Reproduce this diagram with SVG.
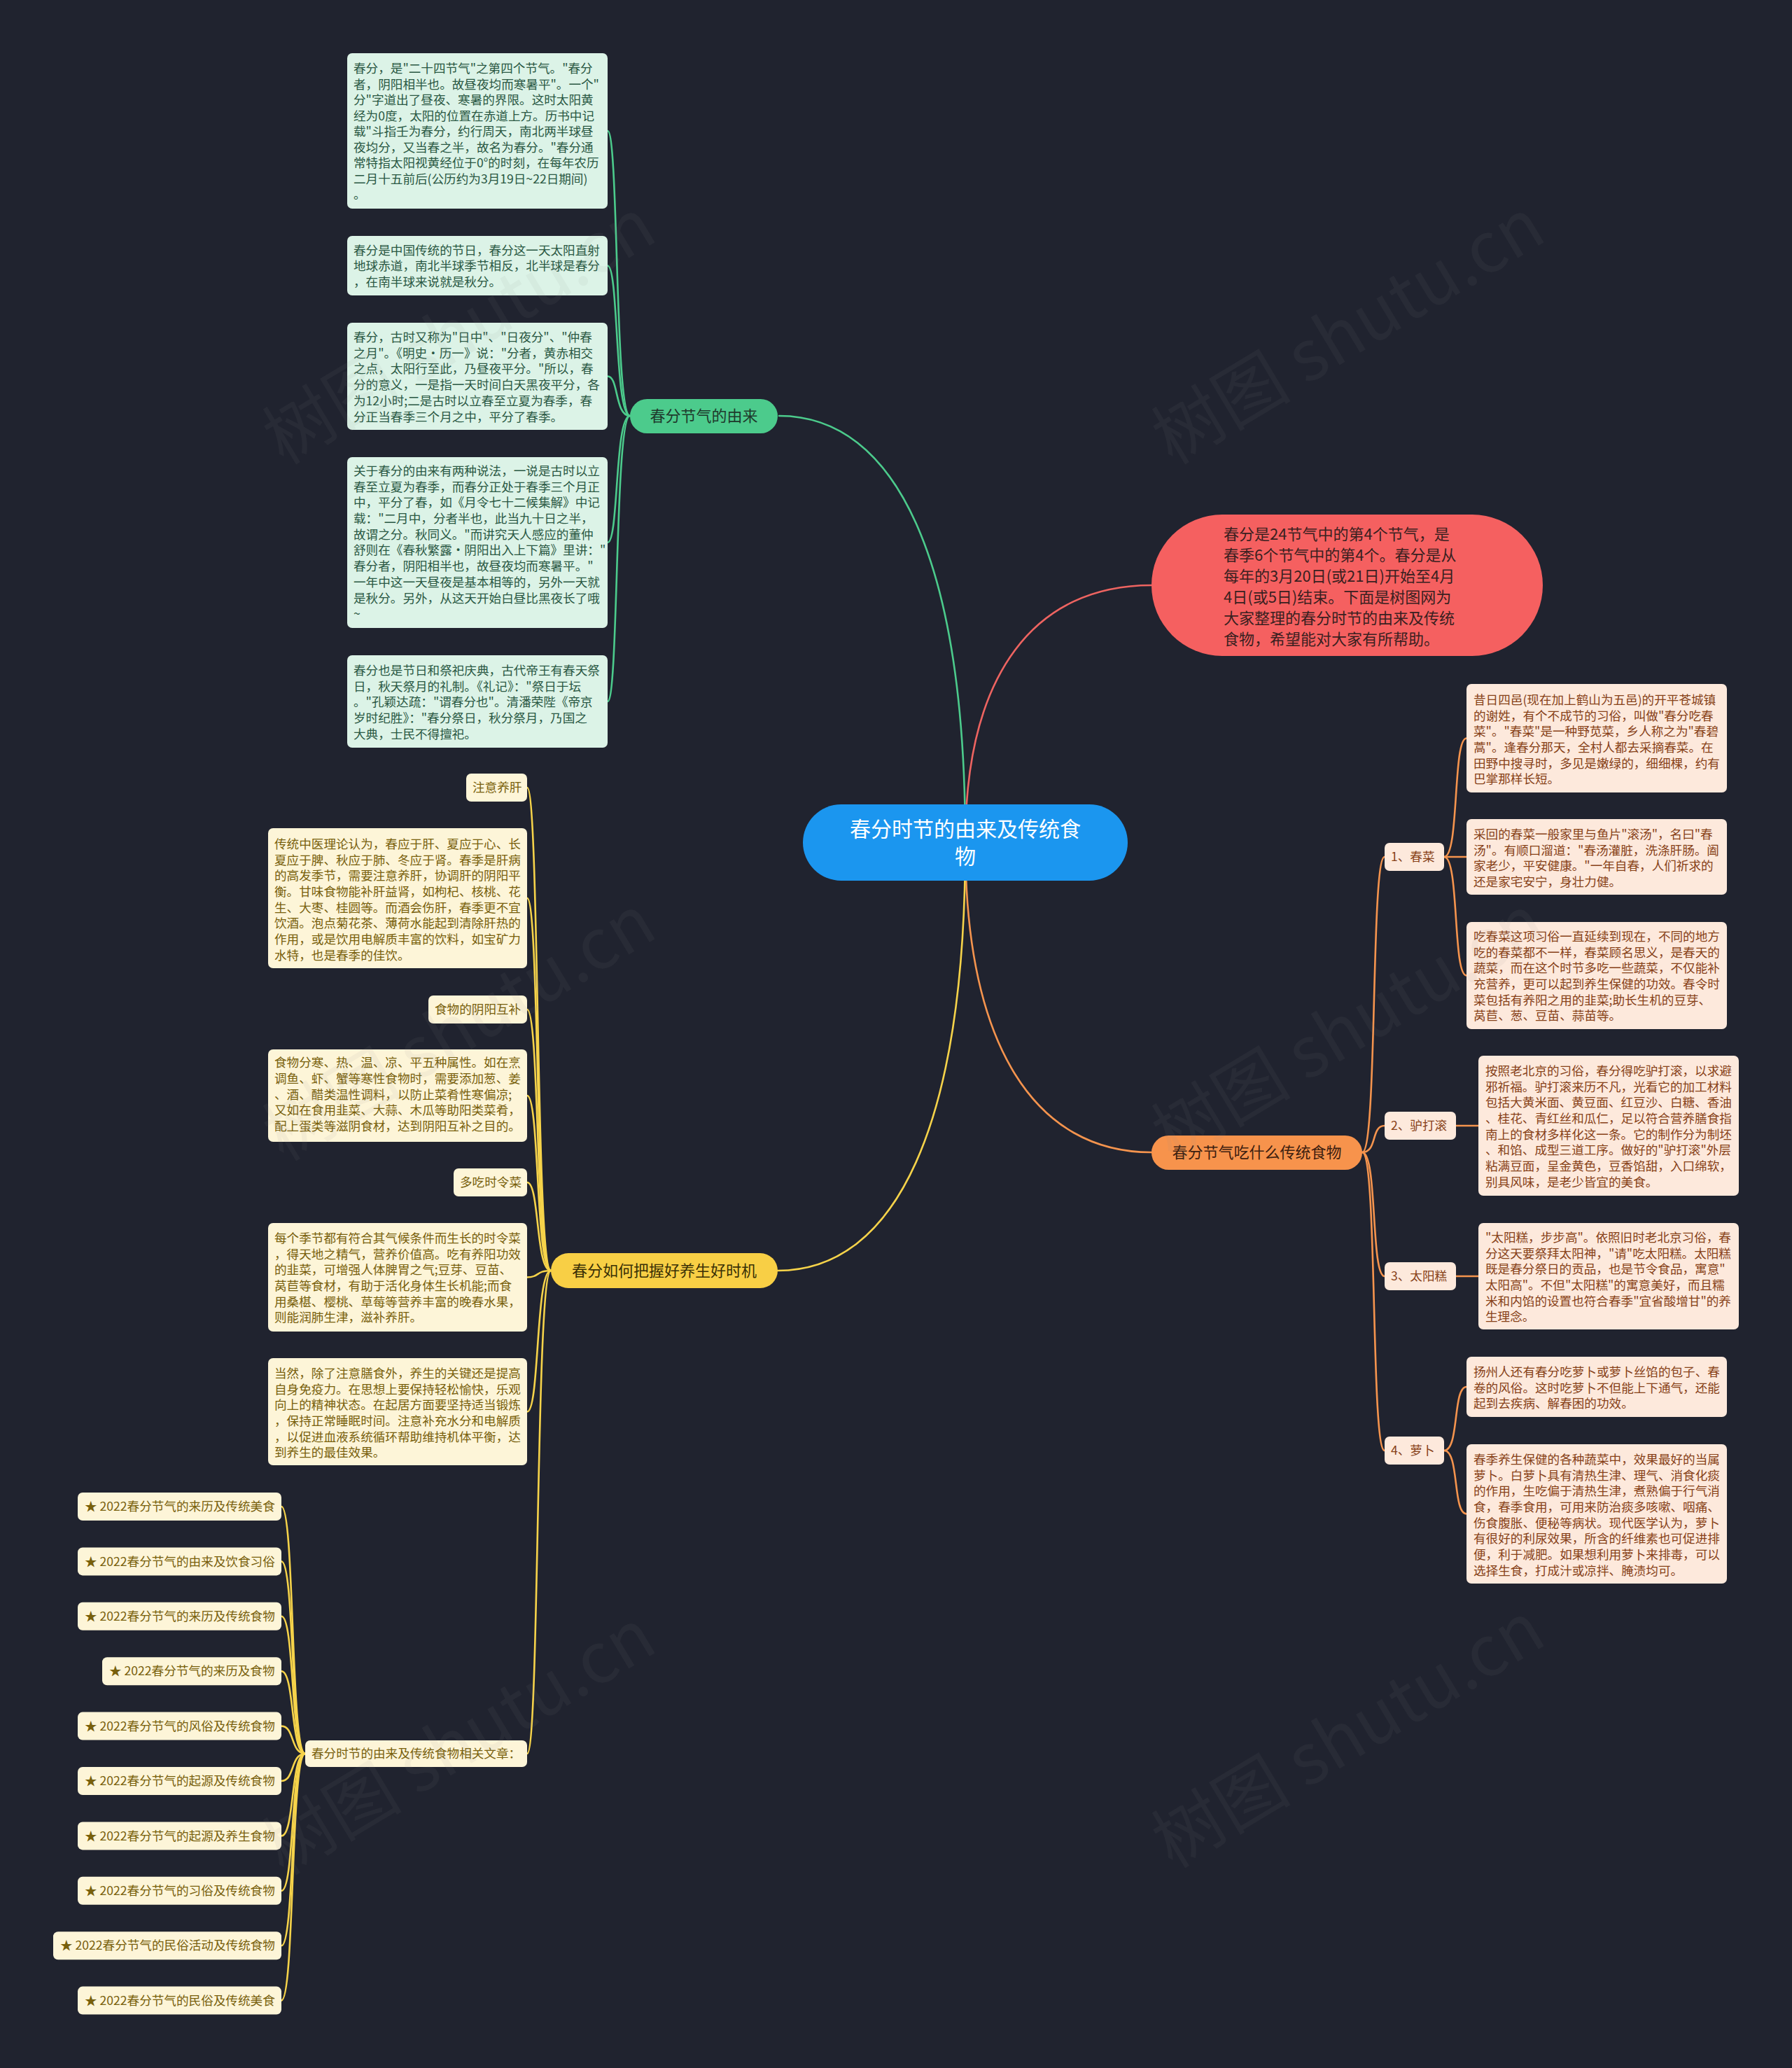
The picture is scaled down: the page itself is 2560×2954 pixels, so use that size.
<svg xmlns="http://www.w3.org/2000/svg" width="2560" height="2954" viewBox="0 0 2560 2954">
<style>
text{font-family:"Noto Sans CJK SC","Noto Sans",sans-serif}
.c{fill:none;stroke-width:2.6;stroke-linecap:round}
.cg{stroke:#4ccb8c}.cr{stroke:#ee6461}.co{stroke:#f5944e}.cy{stroke:#f6d34a}
.gb{fill:#dcf3e7}.gt{fill:#2a5843;font-size:17.6px}
.yb{fill:#fdf5d8}.yt{fill:#78600c;font-size:17.6px}
.ob{fill:#fde9dc}.ot{fill:#874118;font-size:17.6px}
.wm{fill:#8a8a8a;fill-opacity:0.08;font-size:100px}
</style>
<rect width="2560" height="2954" fill="#20232f"/>

<g id="connectors">
<path class="c cg" d="M1113 594 C1280 594 1379 800 1379 1204"/>
<path class="c cr" d="M1645 836 C1480 836 1379 960 1379 1204"/>
<path class="c co" d="M1645 1646 C1480 1646 1379 1496 1379 1204"/>
<path class="c cy" d="M1111 1815 C1280 1815 1379 1607 1379 1204"/>
<path class="c cg" d="M900 594 C878 594 884 187 868 187"/>
<path class="c cg" d="M900 594 C878 594 884 379.5 868 379.5"/>
<path class="c cg" d="M900 594 C878 594 884 537.5 868 537.5"/>
<path class="c cg" d="M900 594 C878 594 884 775 868 775"/>
<path class="c cg" d="M900 594 C878 594 884 1002 868 1002"/>
<path class="c cy" d="M787 1815 C765 1815 771 1125 753 1125"/>
<path class="c cy" d="M787 1815 C765 1815 771 1283 753 1283"/>
<path class="c cy" d="M787 1815 C765 1815 771 1442 753 1442"/>
<path class="c cy" d="M787 1815 C765 1815 771 1565 753 1565"/>
<path class="c cy" d="M787 1815 C765 1815 771 1689 753 1689"/>
<path class="c cy" d="M787 1815 C765 1815 771 1824.5 753 1824.5"/>
<path class="c cy" d="M787 1815 C765 1815 771 2016.5 753 2016.5"/>
<path class="c cy" d="M787 1815 C765 1815 771 2505 753 2505"/>
<path class="c cy" d="M436 2505 C415 2505 421 2152 402 2152"/>
<path class="c cy" d="M436 2505 C415 2505 421 2230.4 402 2230.4"/>
<path class="c cy" d="M436 2505 C415 2505 421 2308.8 402 2308.8"/>
<path class="c cy" d="M436 2505 C415 2505 421 2387.2 402 2387.2"/>
<path class="c cy" d="M436 2505 C415 2505 421 2465.6 402 2465.6"/>
<path class="c cy" d="M436 2505 C415 2505 421 2544 402 2544"/>
<path class="c cy" d="M436 2505 C415 2505 421 2622.4 402 2622.4"/>
<path class="c cy" d="M436 2505 C415 2505 421 2700.8 402 2700.8"/>
<path class="c cy" d="M436 2505 C415 2505 421 2779.2 402 2779.2"/>
<path class="c cy" d="M436 2505 C415 2505 421 2857.6 402 2857.6"/>
<path class="c co" d="M1946 1646 C1968 1646 1958 1224 1978 1224"/>
<path class="c co" d="M1946 1646 C1968 1646 1958 1608 1978 1608"/>
<path class="c co" d="M1946 1646 C1968 1646 1958 1823 1978 1823"/>
<path class="c co" d="M1946 1646 C1968 1646 1958 2072 1978 2072"/>
<path class="c co" d="M2063 1224 C2085 1224 2075 1054.5 2095 1054.5"/>
<path class="c co" d="M2063 1224 C2085 1224 2075 1224 2095 1224"/>
<path class="c co" d="M2063 1224 C2085 1224 2075 1393.5 2095 1393.5"/>
<path class="c co" d="M2080 1608 L2112 1608"/>
<path class="c co" d="M2080 1823 L2112 1823"/>
<path class="c co" d="M2063 2072 C2085 2072 2075 1981 2095 1981"/>
<path class="c co" d="M2063 2072 C2085 2072 2075 2162.5 2095 2162.5"/>
</g>

<g id="root">
<rect x="1147" y="1149" width="464" height="109" rx="54.5" fill="#1b96ef"/>
<text x="1379" y="1194.6" text-anchor="middle" fill="#ffffff" font-size="30">春分时节的由来及传统食</text>
<text x="1379" y="1233.6" text-anchor="middle" fill="#ffffff" font-size="30">物</text>
</g>

<g id="n-origin">
<rect x="900" y="570" width="211" height="49" rx="24.5" fill="#4ccb8c"/>
<text x="1005.5" y="601.8" text-anchor="middle" fill="#1e3a2c" font-size="22">春分节气的由来</text>
</g>

<g id="n-intro">
<rect x="1645" y="735" width="559" height="202" rx="101" fill="#f56060"/>
<text fill="#3a2020" font-size="22">
<tspan x="1748" y="770.8">春分是24节气中的第4个节气，是</tspan>
<tspan x="1748" y="800.8">春季6个节气中的第4个。春分是从</tspan>
<tspan x="1748" y="830.8">每年的3月20日(或21日)开始至4月</tspan>
<tspan x="1748" y="860.8">4日(或5日)结束。下面是树图网为</tspan>
<tspan x="1748" y="890.8">大家整理的春分时节的由来及传统</tspan>
<tspan x="1748" y="920.8">食物，希望能对大家有所帮助。</tspan>
</text>
</g>

<g id="n-food">
<rect x="1645" y="1622" width="301" height="49" rx="24.5" fill="#f7934c"/>
<text x="1795.5" y="1654" text-anchor="middle" fill="#3d2010" font-size="22">春分节气吃什么传统食物</text>
</g>

<g id="n-health">
<rect x="787" y="1790" width="324" height="50" rx="25" fill="#f8cf45"/>
<text x="949" y="1822.8" text-anchor="middle" fill="#3a3005" font-size="22">春分如何把握好养生好时机</text>
</g>

<g id="g1">
<rect class="gb" x="496" y="76" width="372" height="222" rx="7"/>
<text class="gt">
<tspan x="505" y="104.2">春分，是"二十四节气"之第四个节气。"春分</tspan>
<tspan x="505" y="126.7">者，阴阳相半也。故昼夜均而寒暑平"。一个"</tspan>
<tspan x="505" y="149.2">分"字道出了昼夜、寒暑的界限。这时太阳黄</tspan>
<tspan x="505" y="171.7">经为0度，太阳的位置在赤道上方。历书中记</tspan>
<tspan x="505" y="194.2">载"斗指壬为春分，约行周天，南北两半球昼</tspan>
<tspan x="505" y="216.7">夜均分，又当春之半，故名为春分。"春分通</tspan>
<tspan x="505" y="239.2">常特指太阳视黄经位于0°的时刻，在每年农历</tspan>
<tspan x="505" y="261.7">二月十五前后(公历约为3月19日~22日期间)</tspan>
<tspan x="505" y="284.2">。</tspan>
</text>
</g>
<g id="g2">
<rect class="gb" x="496" y="337" width="372" height="85" rx="7"/>
<text class="gt">
<tspan x="505" y="363.7">春分是中国传统的节日，春分这一天太阳直射</tspan>
<tspan x="505" y="386.2">地球赤道，南北半球季节相反，北半球是春分</tspan>
<tspan x="505" y="408.7">，在南半球来说就是秋分。</tspan>
</text>
</g>
<g id="g3">
<rect class="gb" x="496" y="461" width="372" height="153" rx="7"/>
<text class="gt">
<tspan x="505" y="488.2">春分，古时又称为"日中"、"日夜分"、"仲春</tspan>
<tspan x="505" y="511.2">之月"。《明史·历一》说："分者，黄赤相交</tspan>
<tspan x="505" y="533.2">之点，太阳行至此，乃昼夜平分。"所以，春</tspan>
<tspan x="505" y="556.2">分的意义，一是指一天时间白天黑夜平分，各</tspan>
<tspan x="505" y="579.2">为12小时;二是古时以立春至立夏为春季，春</tspan>
<tspan x="505" y="602.2">分正当春季三个月之中，平分了春季。</tspan>
</text>
</g>
<g id="g4">
<rect class="gb" x="496" y="653" width="372" height="244" rx="7"/>
<text class="gt">
<tspan x="505" y="679.2">关于春分的由来有两种说法，一说是古时以立</tspan>
<tspan x="505" y="702.2">春至立夏为春季，而春分正处于春季三个月正</tspan>
<tspan x="505" y="724.2">中，平分了春，如《月令七十二候集解》中记</tspan>
<tspan x="505" y="747.2">载："二月中，分者半也，此当九十日之半，</tspan>
<tspan x="505" y="770.2">故谓之分。秋同义。"而讲究天人感应的董仲</tspan>
<tspan x="505" y="792.2">舒则在《春秋繁露·阴阳出入上下篇》里讲："</tspan>
<tspan x="505" y="815.2">春分者，阴阳相半也，故昼夜均而寒暑平。"</tspan>
<tspan x="505" y="838.2">一年中这一天昼夜是基本相等的，另外一天就</tspan>
<tspan x="505" y="861.2">是秋分。另外，从这天开始白昼比黑夜长了哦</tspan>
<tspan x="505" y="883.2">~</tspan>
</text>
</g>
<g id="g5">
<rect class="gb" x="496" y="936" width="372" height="132" rx="7"/>
<text class="gt">
<tspan x="505" y="964.2">春分也是节日和祭祀庆典，古代帝王有春天祭</tspan>
<tspan x="505" y="987.2">日，秋天祭月的礼制。《礼记》："祭日于坛</tspan>
<tspan x="505" y="1009.2">。"孔颖达疏："谓春分也"。清潘荣陛《帝京</tspan>
<tspan x="505" y="1032.2">岁时纪胜》："春分祭日，秋分祭月，乃国之</tspan>
<tspan x="505" y="1055.2">大典，士民不得擅祀。</tspan>
</text>
</g>

<g id="y1">
<rect class="yb" x="666" y="1105" width="87" height="40" rx="7"/>
<text class="yt" x="675" y="1131.2">注意养肝</text>
</g>
<g id="y2">
<rect class="yb" x="383" y="1183" width="370" height="200" rx="7"/>
<text class="yt">
<tspan x="392" y="1212.2">传统中医理论认为，春应于肝、夏应于心、长</tspan>
<tspan x="392" y="1235.2">夏应于脾、秋应于肺、冬应于肾。春季是肝病</tspan>
<tspan x="392" y="1257.2">的高发季节，需要注意养肝，协调肝的阴阳平</tspan>
<tspan x="392" y="1280.2">衡。甘味食物能补肝益肾，如枸杞、核桃、花</tspan>
<tspan x="392" y="1303.2">生、大枣、桂圆等。而酒会伤肝，春季更不宜</tspan>
<tspan x="392" y="1325.2">饮酒。泡点菊花茶、薄荷水能起到清除肝热的</tspan>
<tspan x="392" y="1348.2">作用，或是饮用电解质丰富的饮料，如宝矿力</tspan>
<tspan x="392" y="1371.2">水特，也是春季的佳饮。</tspan>
</text>
</g>
<g id="y3">
<rect class="yb" x="612" y="1422" width="141" height="40" rx="7"/>
<text class="yt" x="621" y="1448.2">食物的阴阳互补</text>
</g>
<g id="y4">
<rect class="yb" x="383" y="1499" width="370" height="132" rx="7"/>
<text class="yt">
<tspan x="392" y="1524.2">食物分寒、热、温、凉、平五种属性。如在烹</tspan>
<tspan x="392" y="1547.2">调鱼、虾、蟹等寒性食物时，需要添加葱、姜</tspan>
<tspan x="392" y="1570.2">、酒、醋类温性调料，以防止菜肴性寒偏凉;</tspan>
<tspan x="392" y="1592.2">又如在食用韭菜、大蒜、木瓜等助阳类菜肴，</tspan>
<tspan x="392" y="1615.2">配上蛋类等滋阴食材，达到阴阳互补之目的。</tspan>
</text>
</g>
<g id="y5">
<rect class="yb" x="648" y="1669" width="105" height="40" rx="7"/>
<text class="yt" x="657" y="1695.2">多吃时令菜</text>
</g>
<g id="y6">
<rect class="yb" x="383" y="1747" width="370" height="155" rx="7"/>
<text class="yt">
<tspan x="392" y="1775.2">每个季节都有符合其气候条件而生长的时令菜</tspan>
<tspan x="392" y="1798.2">，得天地之精气，营养价值高。吃有养阳功效</tspan>
<tspan x="392" y="1820.2">的韭菜，可增强人体脾胃之气;豆芽、豆苗、</tspan>
<tspan x="392" y="1843.2">莴苣等食材，有助于活化身体生长机能;而食</tspan>
<tspan x="392" y="1866.2">用桑椹、樱桃、草莓等营养丰富的晚春水果，</tspan>
<tspan x="392" y="1888.2">则能润肺生津，滋补养肝。</tspan>
</text>
</g>
<g id="y7">
<rect class="yb" x="383" y="1940" width="370" height="153" rx="7"/>
<text class="yt">
<tspan x="392" y="1968.2">当然，除了注意膳食外，养生的关键还是提高</tspan>
<tspan x="392" y="1991.2">自身免疫力。在思想上要保持轻松愉快，乐观</tspan>
<tspan x="392" y="2013.2">向上的精神状态。在起居方面要坚持适当锻炼</tspan>
<tspan x="392" y="2036.2">，保持正常睡眠时间。注意补充水分和电解质</tspan>
<tspan x="392" y="2059.2">，以促进血液系统循环帮助维持机体平衡，达</tspan>
<tspan x="392" y="2081.2">到养生的最佳效果。</tspan>
</text>
</g>
<g id="y8">
<rect class="yb" x="436" y="2486" width="317" height="38" rx="7"/>
<text class="yt" x="445" y="2511.2">春分时节的由来及传统食物相关文章：</text>
</g>

<g id="a1"><rect class="yb" x="111" y="2132" width="291" height="40" rx="7"/><text class="yt" x="121" y="2158.2">★ 2022春分节气的来历及传统美食</text></g>
<g id="a2"><rect class="yb" x="111" y="2210.4" width="291" height="40" rx="7"/><text class="yt" x="121" y="2236.6">★ 2022春分节气的由来及饮食习俗</text></g>
<g id="a3"><rect class="yb" x="111" y="2288.8" width="291" height="40" rx="7"/><text class="yt" x="121" y="2315">★ 2022春分节气的来历及传统食物</text></g>
<g id="a4"><rect class="yb" x="146" y="2367.2" width="256" height="40" rx="7"/><text class="yt" x="156" y="2393.4">★ 2022春分节气的来历及食物</text></g>
<g id="a5"><rect class="yb" x="111" y="2445.6" width="291" height="40" rx="7"/><text class="yt" x="121" y="2471.8">★ 2022春分节气的风俗及传统食物</text></g>
<g id="a6"><rect class="yb" x="111" y="2524" width="291" height="40" rx="7"/><text class="yt" x="121" y="2550.2">★ 2022春分节气的起源及传统食物</text></g>
<g id="a7"><rect class="yb" x="111" y="2602.4" width="291" height="40" rx="7"/><text class="yt" x="121" y="2628.6">★ 2022春分节气的起源及养生食物</text></g>
<g id="a8"><rect class="yb" x="111" y="2680.8" width="291" height="40" rx="7"/><text class="yt" x="121" y="2707">★ 2022春分节气的习俗及传统食物</text></g>
<g id="a9"><rect class="yb" x="76" y="2759.2" width="326" height="40" rx="7"/><text class="yt" x="86" y="2785.4">★ 2022春分节气的民俗活动及传统食物</text></g>
<g id="a10"><rect class="yb" x="111" y="2837.6" width="291" height="40" rx="7"/><text class="yt" x="121" y="2863.8">★ 2022春分节气的民俗及传统美食</text></g>

<g id="o1"><rect class="ob" x="1978" y="1204" width="85" height="40" rx="7"/><text class="ot" x="1987" y="1230.2">1、春菜</text></g>
<g id="o2"><rect class="ob" x="1978" y="1588" width="102" height="40" rx="7"/><text class="ot" x="1987" y="1614.2">2、驴打滚</text></g>
<g id="o3"><rect class="ob" x="1978" y="1803" width="102" height="40" rx="7"/><text class="ot" x="1987" y="1829.2">3、太阳糕</text></g>
<g id="o4"><rect class="ob" x="1978" y="2052" width="85" height="40" rx="7"/><text class="ot" x="1987" y="2078.2">4、萝卜</text></g>

<g id="r1">
<rect class="ob" x="2095" y="977" width="372" height="155" rx="7"/>
<text class="ot">
<tspan x="2105" y="1006.2">昔日四邑(现在加上鹤山为五邑)的开平苍城镇</tspan>
<tspan x="2105" y="1029.2">的谢姓，有个不成节的习俗，叫做"春分吃春</tspan>
<tspan x="2105" y="1051.2">菜"。"春菜"是一种野苋菜，乡人称之为"春碧</tspan>
<tspan x="2105" y="1074.2">蒿"。逢春分那天，全村人都去采摘春菜。在</tspan>
<tspan x="2105" y="1097.2">田野中搜寻时，多见是嫩绿的，细细棵，约有</tspan>
<tspan x="2105" y="1119.2">巴掌那样长短。</tspan>
</text>
</g>
<g id="r2">
<rect class="ob" x="2095" y="1170" width="372" height="108" rx="7"/>
<text class="ot">
<tspan x="2105" y="1198.2">采回的春菜一般家里与鱼片"滚汤"，名曰"春</tspan>
<tspan x="2105" y="1221.2">汤"。有顺口溜道："春汤灌脏，洗涤肝肠。阖</tspan>
<tspan x="2105" y="1243.2">家老少，平安健康。"一年自春，人们祈求的</tspan>
<tspan x="2105" y="1266.2">还是家宅安宁，身壮力健。</tspan>
</text>
</g>
<g id="r3">
<rect class="ob" x="2095" y="1317" width="372" height="153" rx="7"/>
<text class="ot">
<tspan x="2105" y="1344.2">吃春菜这项习俗一直延续到现在，不同的地方</tspan>
<tspan x="2105" y="1367.2">吃的春菜都不一样，春菜顾名思义，是春天的</tspan>
<tspan x="2105" y="1389.2">蔬菜，而在这个时节多吃一些蔬菜，不仅能补</tspan>
<tspan x="2105" y="1412.2">充营养，更可以起到养生保健的功效。春令时</tspan>
<tspan x="2105" y="1435.2">菜包括有养阳之用的韭菜;助长生机的豆芽、</tspan>
<tspan x="2105" y="1457.2">莴苣、葱、豆苗、蒜苗等。</tspan>
</text>
</g>
<g id="r4">
<rect class="ob" x="2112" y="1508" width="372" height="200" rx="7"/>
<text class="ot">
<tspan x="2122" y="1536.2">按照老北京的习俗，春分得吃驴打滚，以求避</tspan>
<tspan x="2122" y="1559.2">邪祈福。驴打滚来历不凡，光看它的加工材料</tspan>
<tspan x="2122" y="1581.2">包括大黄米面、黄豆面、红豆沙、白糖、香油</tspan>
<tspan x="2122" y="1604.2">、桂花、青红丝和瓜仁，足以符合营养膳食指</tspan>
<tspan x="2122" y="1627.2">南上的食材多样化这一条。它的制作分为制坯</tspan>
<tspan x="2122" y="1649.2">、和馅、成型三道工序。做好的"驴打滚"外层</tspan>
<tspan x="2122" y="1672.2">粘满豆面，呈金黄色，豆香馅甜，入口绵软，</tspan>
<tspan x="2122" y="1695.2">别具风味，是老少皆宜的美食。</tspan>
</text>
</g>
<g id="r5">
<rect class="ob" x="2112" y="1747" width="372" height="152" rx="7"/>
<text class="ot">
<tspan x="2122" y="1774.2">"太阳糕，步步高"。依照旧时老北京习俗，春</tspan>
<tspan x="2122" y="1797.2">分这天要祭拜太阳神，"请"吃太阳糕。太阳糕</tspan>
<tspan x="2122" y="1819.2">既是春分祭日的贡品，也是节令食品，寓意"</tspan>
<tspan x="2122" y="1842.2">太阳高"。不但"太阳糕"的寓意美好，而且糯</tspan>
<tspan x="2122" y="1865.2">米和内馅的设置也符合春季"宜省酸增甘"的养</tspan>
<tspan x="2122" y="1887.2">生理念。</tspan>
</text>
</g>
<g id="r6">
<rect class="ob" x="2095" y="1938" width="372" height="86" rx="7"/>
<text class="ot">
<tspan x="2105" y="1966.2">扬州人还有春分吃萝卜或萝卜丝馅的包子、春</tspan>
<tspan x="2105" y="1989.2">卷的风俗。这时吃萝卜不但能上下通气，还能</tspan>
<tspan x="2105" y="2011.2">起到去疾病、解春困的功效。</tspan>
</text>
</g>
<g id="r7">
<rect class="ob" x="2095" y="2063" width="372" height="199" rx="7"/>
<text class="ot">
<tspan x="2105" y="2091.2">春季养生保健的各种蔬菜中，效果最好的当属</tspan>
<tspan x="2105" y="2114.2">萝卜。白萝卜具有清热生津、理气、消食化痰</tspan>
<tspan x="2105" y="2136.2">的作用，生吃偏于清热生津，煮熟偏于行气消</tspan>
<tspan x="2105" y="2159.2">食，春季食用，可用来防治痰多咳嗽、咽痛、</tspan>
<tspan x="2105" y="2182.2">伤食腹胀、便秘等病状。现代医学认为，萝卜</tspan>
<tspan x="2105" y="2204.2">有很好的利尿效果，所含的纤维素也可促进排</tspan>
<tspan x="2105" y="2227.2">便，利于减肥。如果想利用萝卜来排毒，可以</tspan>
<tspan x="2105" y="2250.2">选择生食，打成汁或凉拌、腌渍均可。</tspan>
</text>
</g>

<g id="watermarks">
<text class="wm" transform="translate(405 665) rotate(-31)">树图 shutu.cn</text>
<text class="wm" transform="translate(1675 665) rotate(-31)">树图 shutu.cn</text>
<text class="wm" transform="translate(405 1660) rotate(-31)">树图 shutu.cn</text>
<text class="wm" transform="translate(1675 1660) rotate(-31)">树图 shutu.cn</text>
<text class="wm" transform="translate(405 2680) rotate(-31)">树图 shutu.cn</text>
<text class="wm" transform="translate(1675 2670) rotate(-31)">树图 shutu.cn</text>
</g>
</svg>
